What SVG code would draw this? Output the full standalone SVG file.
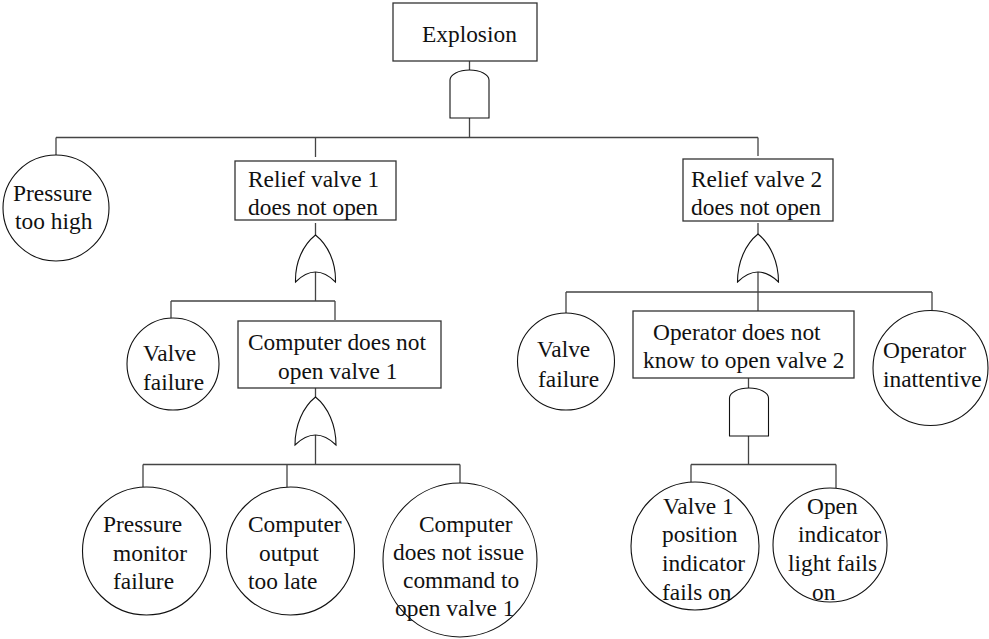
<svg xmlns="http://www.w3.org/2000/svg" width="989" height="639" viewBox="0 0 989 639">
<style>
  .box{fill:#fff;stroke:#333;stroke-width:1.3}
  .ev{fill:#fff;stroke:#111;stroke-width:1.1}
  .gate{fill:#fff;stroke:#111;stroke-width:1.1}
  .ln{fill:none;stroke:#444;stroke-width:1.3}
  .t{font-family:'Liberation Serif','Times New Roman','DejaVu Serif',serif;font-size:23.4px;fill:#111}
</style>
<rect width="989" height="639" fill="#fff"/>
<g id="connectors">
  <path class="ln" d="M469.5,61 V70 M469.5,118 V137.5 M56,137.5 H758 M56,137.5 V155 M315.5,137.5 V157 M758,137.5 V156"/>
  <path class="ln" d="M315.5,223 V235 M315.5,272 V301 M171,301 H335 M171,301 V318 M335,301 V320"/>
  <path class="ln" d="M315.5,388 V397 M315.5,435 V464.5 M143,464.5 H460 M143,464.5 V487 M287,464.5 V487 M460,464.5 V483"/>
  <path class="ln" d="M758,223 V234 M758,272 V311 M566,292 H932 M566,292 V313 M932,292 V311"/>
  <path class="ln" d="M748.5,378 V388 M748.5,436 V464.5 M691,464.5 H836 M691,464.5 V482 M836,464.5 V488"/>
</g>
<g id="gate-and-top"><path class="gate" d="M450,80 A19.5,10 0 0 1 489,80 V118 H450 Z"/></g>
<g id="gate-or-rv1"><path class="gate" d="M315.5,235 C303,245 295,262 295.5,282 Q315.5,262 335.5,282 C336,262 328,245 315.5,235 Z"/></g>
<g id="gate-or-comp"><path class="gate" d="M315.5,397 C303,407 295,425 295,445 Q315.5,425 336,445 C336,425 328,407 315.5,397 Z"/></g>
<g id="gate-or-rv2"><path class="gate" d="M758,234 C745.5,244 737.5,262 737.5,282 Q758,262 778.5,282 C778.5,262 770.5,244 758,234 Z"/></g>
<g id="gate-and-op"><path class="gate" d="M729.5,398 A19.5,10 0 0 1 768.5,398 V436 H729.5 Z"/></g>

<g font-family="Liberation Serif, Times New Roman, DejaVu Serif, serif" font-size="23.4">
<g id="explosion"><rect class="box" x="393" y="3" width="144" height="58"/><text class="t" x="422" y="42">Explosion</text></g>
<g id="pressure-too-high"><circle class="ev" cx="56" cy="208" r="53"/><text class="t" x="13" y="201">Pressure</text><text class="t" x="15" y="229">too high</text></g>
<g id="relief-valve-1"><rect class="box" x="235" y="161" width="161" height="59"/><text class="t" x="248" y="187">Relief valve 1</text><text class="t" x="248" y="215">does not open</text></g>
<g id="relief-valve-2"><rect class="box" x="683" y="159" width="150" height="62"/><text class="t" x="691" y="187">Relief valve 2</text><text class="t" x="691" y="215">does not open</text></g>
<g id="valve-failure-1"><circle class="ev" cx="173" cy="364" r="46"/><text class="t" x="143" y="361">Valve</text><text class="t" x="143" y="390">failure</text></g>
<g id="computer-no-open"><rect class="box" x="238" y="321" width="203" height="67"/><text class="t" x="248" y="350">Computer does not</text><text class="t" x="278" y="379">open valve 1</text></g>
<g id="valve-failure-2"><circle class="ev" cx="566" cy="361.5" r="48.5"/><text class="t" x="537" y="357">Valve</text><text class="t" x="538" y="387">failure</text></g>
<g id="operator-no-know"><rect class="box" x="633" y="311" width="221" height="67"/><text class="t" x="653" y="340">Operator does not</text><text class="t" x="643" y="368">know to open valve 2</text></g>
<g id="operator-inattentive"><circle class="ev" cx="930.5" cy="368" r="57.5"/><text class="t" x="883" y="358">Operator</text><text class="t" x="883" y="387">inattentive</text></g>
<g id="pressure-monitor"><circle class="ev" cx="146.5" cy="551" r="64"/><text class="t" x="103" y="532">Pressure</text><text class="t" x="113" y="561">monitor</text><text class="t" x="113" y="589">failure</text></g>
<g id="computer-late"><circle class="ev" cx="290.5" cy="551" r="64"/><text class="t" x="248" y="532">Computer</text><text class="t" x="259" y="561">output</text><text class="t" x="248" y="589">too late</text></g>
<g id="computer-no-command"><circle class="ev" cx="460" cy="560" r="77"/><text class="t" x="419" y="532">Computer</text><text class="t" x="393" y="560">does not issue</text><text class="t" x="403" y="588">command to</text><text class="t" x="395" y="616">open valve 1</text></g>
<g id="valve1-indicator"><circle class="ev" cx="695" cy="546" r="64"/><text class="t" x="663" y="514">Valve 1</text><text class="t" x="662" y="542">position</text><text class="t" x="662" y="571">indicator</text><text class="t" x="662" y="600">fails on</text></g>
<g id="open-indicator"><circle class="ev" cx="830" cy="545" r="57"/><text class="t" x="807" y="514">Open</text><text class="t" x="798" y="542">indicator</text><text class="t" x="788" y="571">light fails</text><text class="t" x="812" y="600">on</text></g>
</g>
</svg>
